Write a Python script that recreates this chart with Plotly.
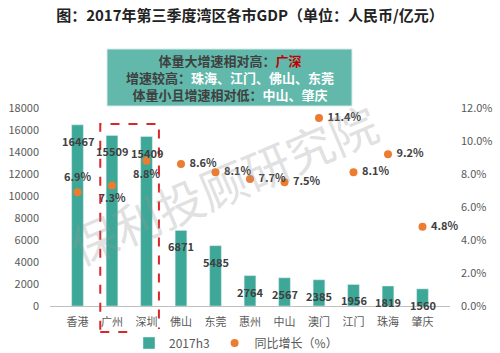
import plotly.graph_objects as go

cities = ["香港", "广州", "深圳", "佛山", "东莞", "惠州", "中山", "澳门", "江门", "珠海", "肇庆"]
gdp = [16467, 15509, 15409, 6871, 5485, 2764, 2567, 2385, 1956, 1819, 1560]
growth = [6.9, 7.3, 8.8, 8.6, 8.1, 7.7, 7.5, 11.4, 8.1, 9.2, 4.8]
growth_pos = ["top center", "bottom center", "bottom center"] + ["middle right"] * 8

TEAL = "#3da897"
ORANGE = "#ec7c30"
DARK = "#404040"
FONT = "Noto Sans CJK SC"

growth_frac = [g / 100 for g in growth]

fig = go.Figure()
fig.add_trace(go.Bar(
    x=cities, y=gdp, name="2017h3", marker_color=TEAL, yaxis="y",
))
fig.add_trace(go.Scatter(
    x=cities, y=growth_frac, name="同比增长（%）", yaxis="y2",
    mode="markers", marker=dict(color=ORANGE, size=8), cliponaxis=False,
))
fig.add_trace(go.Scatter(
    x=cities, y=growth_frac, yaxis="y2", showlegend=False, hoverinfo="skip",
    mode="markers+text", cliponaxis=False,
    marker=dict(size=12, color="rgba(0,0,0,0)"),
    text=[f"{g:.1f}%" for g in growth], textposition=growth_pos,
    textfont=dict(size=11, color=DARK, family=FONT, weight="bold"),
))

annotations = []
for c, v in zip(cities, gdp):
    annotations.append(dict(
        x=c, y=v, xref="x", yref="y", text=f"<b>{v}</b>", showarrow=False,
        yshift=-16, font=dict(size=11, color=DARK, family=FONT),
    ))

# header box text
annotations.append(dict(
    x=0.45, y=1.155, xref="paper", yref="paper", xanchor="center", yanchor="middle",
    showarrow=False,
    text=("<b>体量大增速相对高：<span style='color:#c00000'>广深</span><br>"
          "增速较高：<span style='color:#ffffff'>珠海、江门、佛山、东莞</span><br>"
          "体量小且增速相对低：<span style='color:#ffffff'>中山、肇庆</span></b>"),
    font=dict(size=13, color=DARK, family=FONT), align="center",
))
# watermark
annotations.append(dict(
    x=0.43, y=0.62, xref="paper", yref="paper", showarrow=False,
    text="保利投顾研究院", textangle=-23,
    font=dict(size=47, color="rgba(150,150,150,0.3)", family=FONT),
))

shapes = [
    dict(type="rect", xref="paper", yref="paper", x0=0.1425, x1=0.755, y0=1.01, y1=1.298,
         fillcolor="#62b8ab", line=dict(color="#d8ecea", width=1), layer="below"),
    dict(type="rect", xref="x", yref="paper", x0=0.66, x1=2.36, y0=-0.131, y1=0.919,
         line=dict(color="#d9262a", width=2, dash="dash"), fillcolor="rgba(0,0,0,0)"),
]

fig.update_layout(
    width=500, height=353,
    margin=dict(l=50, r=50, t=108, b=47, autoexpand=False),
    paper_bgcolor="white", plot_bgcolor="white",
    font=dict(family=FONT, color="#595959", size=11),
    title=dict(text="<b>图：2017年第三季度湾区各市GDP（单位：人民币/亿元）</b>",
               x=0.5, xanchor="center", y=1 - 16 / 353, yanchor="middle", yref="container",
               font=dict(size=15, color="#222222", family=FONT)),
    bargap=0.66,
    xaxis=dict(showline=True, linecolor="#bfbfbf", linewidth=1, ticks="",
               ticklabelstandoff=6, tickfont=dict(size=11, color="#595959")),
    yaxis=dict(range=[0, 18000], dtick=2000, tickformat="d", showgrid=False, zeroline=False,
               ticklabelstandoff=10, tickfont=dict(size=11, color="#595959")),
    yaxis2=dict(range=[0, 0.12], dtick=0.02, tickformat=".1%", overlaying="y", side="right",
                showgrid=False, zeroline=False, ticklabelstandoff=10,
                tickfont=dict(size=11, color="#595959")),
    legend=dict(orientation="h", x=0.465, xanchor="center", yref="container",
                y=1 - 343 / 353, yanchor="middle",
                font=dict(size=12, color="#595959"), itemwidth=30),
    annotations=annotations,
    shapes=shapes,
    showlegend=True,
)

fig.write_html("out.html")
